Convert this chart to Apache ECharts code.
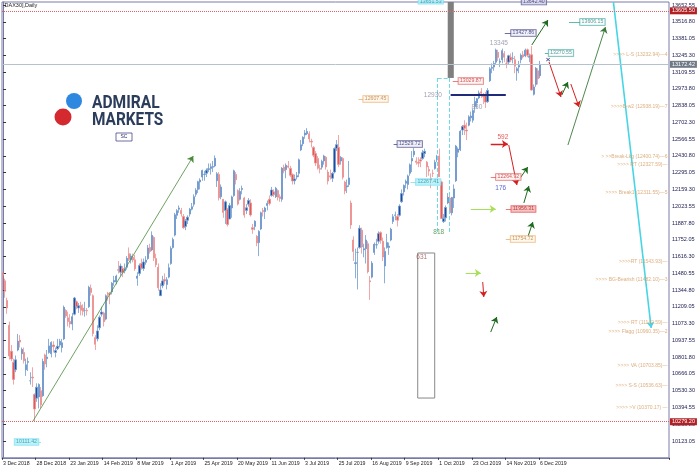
<!DOCTYPE html>
<html><head><meta charset="utf-8">
<script src="https://cdn.jsdelivr.net/npm/echarts@6/dist/echarts.min.js"></script>
<style>html,body{margin:0;padding:0;background:#fff}#c{width:700px;height:469px}</style>
</head><body><div id="c"></div>
<script>
// ---- tick labels ----
const xTickLabels = ['3 Dec 2018','28 Dec 2018','23 Jan 2019','14 Feb 2019','8 Mar 2019','1 Apr 2019','25 Apr 2019','20 May 2019','11 Jun 2019','3 Jul 2019','25 Jul 2019','16 Aug 2019','9 Sep 2019','1 Oct 2019','23 Oct 2019','14 Nov 2019','6 Dec 2019'];
const barsPerLabel = 16;
const futureSlots = 61;
const yMin = 9987.30, yMax = 13676.8, yStep = 135.75;

// ---- daily OHLC (DAX30, 3 Dec 2018 .. 6 Dec 2019) ----
const open = [11480,11420,11260,11060,10850,10760,10700,10860,10940,10830,10840,10700,10760,10610,10640,10500,10470,
10480,10530,10490,10820,10790,10840,10830,10900,10840,10870,10900,10880,10950,11180,11120,11090,11070,11150,11250,11200,11220,11200,
11180,11180,11210,11360,11300,10960,10950,11040,11150,11160,11110,11320,11320,11330,11410,11410,11510,11490,11520,11500,
11530,11640,11590,11610,11590,11440,11480,11560,11520,11570,11600,11690,11670,11770,11600,11530,11300,11380,11430,11390,11450,
11560,11690,11790,11950,12000,11990,11940,11860,11910,11960,12000,12040,12120,12160,12220,12260,12280,12290,12320,12330,
12340,12350,12230,12280,12100,12080,11990,12000,11920,12010,12110,12280,12150,12080,12160,12090,11990,12040,12050,11850,11860,11780,
11730,11840,11990,11980,12030,12080,12110,12140,12100,12150,12100,12080,12340,12320,12350,12330,12280,12230,12260,12290,
12480,12530,12600,12610,12610,12550,12500,12450,12410,12330,12340,12390,12420,12300,12270,12250,12300,12490,12500,12390,12410,12220,12180,
12200,12050,11750,11560,11650,11690,11830,11670,11680,11720,11420,11450,11650,11710,11740,11810,11740,11540,11690,11690,11750,11900,
11950,11940,11950,12060,12140,12210,12200,12290,12390,12440,12390,12380,12400,12410,12450,12380,12320,12250,12290,12330,12400,
12430,12220,11900,11930,12050,12090,11970,12090,12230,12460,12480,12640,12680,12640,12680,12740,12720,12830,12860,12900,12950,12920,12930,
12870,13040,13140,13150,13190,13270,13190,13210,13260,13180,13190,13230,13220,13210,13120,13150,13210,13250,13240,13290,13230,
13250,12930,13010,13120,13080];
const high = [11486,11437,11283,11090,10900,10790,10815,10990,10980,10880,10880,10790,10800,10680,10720,10510,10590,
10590,10560,10790,10830,10860,10950,10930,10930,10880,10950,10950,10950,11220,11190,11170,11150,11160,11290,11260,11240,11250,11230,
11250,11200,11380,11390,11310,10980,11060,11140,11210,11170,11310,11330,11330,11410,11460,11470,11580,11560,11540,11560,
11620,11690,11640,11640,11630,11490,11560,11600,11600,11620,11710,11720,11820,11780,11640,11560,11400,11460,11480,11450,11560,
11700,11770,11970,12000,12030,12010,11960,11920,11950,12010,12050,12120,12170,12230,12250,12320,12310,12330,12370,12370,
12390,12435,12300,12300,12200,12080,12070,12010,12050,12110,12320,12300,12160,12170,12190,12100,12040,12090,12080,11880,11910,11790,
11830,11980,12010,12020,12070,12110,12180,12160,12180,12160,12120,12340,12360,12370,12390,12350,12290,12280,12300,12410,
12560,12590,12640,12656,12630,12570,12510,12470,12430,12360,12400,12440,12430,12320,12320,12300,12500,12560,12600,12430,12420,12230,12240,
12390,12070,11780,11680,11690,11870,11850,11720,11790,11740,11460,11580,11730,11760,11820,11820,11770,11690,11800,11730,11850,11960,
11980,11960,12040,12160,12200,12240,12280,12370,12470,12494,12420,12420,12420,12480,12490,12390,12350,12290,12320,12400,12440,
12490,12230,11960,12030,12130,12120,12100,12200,12520,12500,12640,12680,12720,12700,12760,12790,12810,12910,12900,12960,12980,12940,12950,
12980,13150,13180,13200,13300,13290,13220,13300,13280,13220,13250,13260,13270,13240,13150,13200,13260,13280,13300,13300,13260,
13320,13010,13150,13140,13200];
const low = [11337,11283,11153,10782,10770,10580,10680,10850,10880,10780,10750,10650,10690,10580,10560,10279,10440,
10387,10390,10480,10700,10720,10830,10800,10840,10800,10860,10880,10840,10940,11120,11050,11040,11020,11140,11190,11160,11140,11140,
11130,11140,11200,11300,10970,10860,10930,11020,11130,11050,11100,11260,11230,11310,11380,11390,11480,11460,11450,11480,
11510,11580,11560,11570,11500,11380,11460,11510,11500,11550,11590,11640,11660,11580,11530,11340,11300,11360,11390,11350,11440,
11550,11680,11780,11920,11970,11940,11840,11830,11880,11940,11990,12020,12100,12130,12160,12230,12230,12260,12300,12280,
12300,12340,12180,12070,12080,11930,11880,11860,11920,11930,12100,12200,12030,12070,12120,11930,11960,12020,11940,11800,11830,11700,
11620,11830,11940,11920,11990,12030,12100,12100,12090,12070,12060,12060,12290,12250,12330,12260,12200,12200,12240,12260,
12470,12510,12570,12600,12540,12500,12420,12350,12320,12290,12320,12360,12320,12200,12240,12220,12290,12470,12340,12360,12240,12120,12130,
12180,11840,11580,11440,11350,11680,11640,11610,11560,11480,11266,11440,11630,11680,11720,11720,11580,11400,11680,11630,11740,11880,
11910,11860,11940,12050,12110,12170,12160,12270,12300,12420,12360,12340,12340,12400,12420,12260,12270,12170,12260,12320,12380,
12260,11920,11888,11900,12040,11960,11950,12010,12220,12420,12470,12600,12600,12560,12670,12710,12700,12780,12820,12890,12900,12850,12820,
12860,13030,13100,13120,13170,13200,13150,13180,13190,13140,13170,13190,13180,13100,13040,13100,13180,13220,13230,13230,13190,
12960,12920,12990,13010,13060];
const close = [11465,11335,11200,10811,10788,10622,10780,10931,10924,10865,10772,10740,10766,10611,10634,10382,10559,
10580,10416,10767,10747,10803,10893,10921,10887,10856,10891,10931,10918,11205,11136,11090,11071,11130,11281,11210,11218,11181,11173,
11180,11176,11367,11325,10994,10906,11014,11126,11167,11089,11299,11309,11309,11401,11423,11458,11505,11540,11487,11516,
11602,11593,11620,11588,11518,11458,11543,11524,11572,11588,11686,11657,11788,11604,11550,11364,11346,11419,11419,11428,11526,
11681,11754,11954,11988,12010,11963,11850,11905,11935,11999,12020,12101,12153,12222,12236,12313,12282,12315,12328,12344,
12345,12412,12286,12092,12179,11973,12059,11876,12029,12099,12310,12238,12041,12143,12168,11952,12011,12071,11953,11837,11902,11727,
11820,11971,11980,12009,12045,12045,12155,12116,12169,12096,12086,12331,12309,12355,12340,12274,12228,12245,12271,12399,
12521,12582,12616,12629,12568,12543,12436,12373,12332,12323,12387,12430,12342,12227,12260,12290,12490,12522,12362,12419,12258,12147,12189,
12253,11872,11658,11567,11650,11845,11694,11679,11750,11493,11412,11563,11715,11712,11802,11747,11612,11658,11731,11701,11838,11939,
11953,11911,12025,12126,12192,12226,12269,12359,12410,12469,12380,12372,12389,12457,12468,12342,12308,12234,12289,12380,12428,
12263,11925,11925,12013,12097,11970,12094,12164,12511,12486,12630,12670,12654,12633,12747,12754,12798,12872,12894,12941,12939,12910,12867,
12961,13136,13148,13179,13289,13228,13198,13283,13230,13180,13242,13207,13221,13157,13137,13163,13246,13232,13287,13245,13236,
12964,12989,13140,13055,13172.42];

// ---- price lines ----
const currentPrice = 13172.42, topLevel = 13605.50, bottomLevel = 10279.20;

// ---- right-side level texts ----
const levelTexts = ['>>>> L-S (13232.94)—4','>>>>B-w2 (12938.19)—7','> >>Break-Lkg (12400.74)—6','>>>> RT (12327.59)—','>>>> Break1 (12311.55)—5','>>>>RT (11543.93)—','>>>> BG-Bearish (11482.10)—3','>>>> RT (11142.59)—','>>>> Flagg (10960.35)—2','>>>> VA (10703.85)—','>>>> S-S (10536.63)—','>>>> >V (10370.17) —'];
const levelTextPrices = [13248,12827,12422,12357,12131,11572,11427,11078,11005,10730,10568,10390];

// ---- build ----
const nBars = open.length;
const nCats = nBars + futureSlots;
const cats = []; for (let i = 0; i < nCats; i++) cats.push(String(i));
const candleData = open.map((o, i) => [o, close[i], low[i], high[i]]);
const lastIdx = nCats - 0.5;
const isTick = (i) => i % barsPerLabel === 0 && i / barsPerLabel < xTickLabels.length;

const FONT = "'Liberation Sans',Arial,sans-serif";
const boxStyles = {
  teal:   {color:'#2a7f7a', backgroundColor:'#ffffff', borderColor:'#3aa6a0'},
  navy:   {color:'#2a2a6a', backgroundColor:'#eeeefa', borderColor:'#4a4a8a'},
  red:    {color:'#c03030', backgroundColor:'#fff0f0', borderColor:'#e06060'},
  redFill:{color:'#a02020', backgroundColor:'#f6b4b4', borderColor:'#e05050'},
  orange: {color:'#b87a3a', backgroundColor:'#fff6ea', borderColor:'#e8b070'},
  cyan:   {color:'#2a8fa0', backgroundColor:'#aef0fa', borderColor:'#7fe0f0'}
};
const textStyles = {
  greyText:{color:'#8a8aa0'}, redText:{color:'#e03030'}, blueText:{color:'#3040c8'},
  greenText:{color:'#3a8a3a'}, brownText:{color:'#a05050'}
};
const notes = [
  [281.0,13515,'13606.15','teal'],[266.0,13264,'13270.55','teal'],[248.1,13426,'13427.86','navy'],
  [223.0,13037,'13029.87','red'],[204.9,12924,'12930','greyText'],[225.9,12827,'830','greyText'],
  [236.4,13345,'13345','greyText'],[177.6,12892,'12607.45','orange'],[193.9,12527,'12529.72','navy'],
  [202.7,12220,'12267.41','cyan'],[238.3,12584,'592','redText'],[240.9,12260,'12264.92','red'],
  [237.3,12171,'176','blueText'],[248.1,12001,'11956.31','redFill'],[247.8,11758,'11754.72','orange'],
  [207.7,11815,'818','greenText'],[199.6,11613,'631','brownText'],[11.2,10115,'10111.42','cyan']
];
const boxLabel = (txt, st) => Object.assign({show:true, position:'inside', formatter:txt, fontSize:5.2, fontFamily:FONT, padding:[1,1.5,0,1.5], borderWidth:0.8}, st);
const scatterData = notes.map(n => {
  const st = boxStyles[n[3]];
  const lab = st ? boxLabel(n[2], st)
                 : Object.assign({show:true, position:'inside', formatter:n[2], fontSize:6.5, fontFamily:FONT}, textStyles[n[3]]);
  return {value:[n[0], n[1]], label: lab};
});
scatterData.push({value:[253.1,13652], label:Object.assign(boxLabel('13642.40', {color:'#2a2a6a', backgroundColor:'#d8d8f0', borderColor:'#4a4a8a'}), {position:'top', distance:0})});
scatterData.push({value:[203.9,13660], label:Object.assign(boxLabel('13651.53', boxStyles.cyan), {position:'top', distance:0})});
scatterData.push({value:[259.8,13207], label:{show:true, position:'inside', formatter:'×', fontSize:8, fontWeight:'bold', color:'#2a2a7a'}});
levelTexts.forEach((t, k) => scatterData.push({value:[lastIdx, levelTextPrices[k]], label:{show:true, position:'left', distance:1, formatter:t, fontSize:5, fontFamily:FONT, color:'#d49a5c'}}));

const G = '#1f6b1f', R = '#d42020', L = '#a6e05a';
const arrows = [
  [[14.3,10285],[90.7,12430],'#4a8a3a',0.8],
  [[252.1,13329],[259.8,13531],G,1],
  [[260.3,13191],[266.0,12908],R,1],
  [[266.4,12924],[269.3,13029],G,1],
  [[270.7,13013],[274.6,12827],R,1],
  [[269.3,12519],[287.2,13474],'#3a7a3a',0.9],
  [[291.0,13676.8],[309.0,11038],'#45d5e5',1.6],
  [[232.5,12527],[240.7,12527],R,1.4],
  [[241.1,12519],[245.0,12195],R,1],
  [[245.9,12236],[250.2,12341],G,1],
  [[248.3,12050],[250.7,12187],G,1],
  [[223.0,12001],[234.9,12001],L,1.2],
  [[250.2,11774],[252.6,11896],G,1],
  [[220.6,11483],[227.8,11483],L,1.2],
  [[228.7,11410],[229.2,11289],R,1],
  [[232.5,11005],[235.4,11127],G,1]
];
const plainLines = [
  [[213.4,12924],[239.7,12924],'#1f2a7a',1.8,'solid'],
  [[207.2,13062],[207.2,11815],'#6fd8e8',1,'dashed'],
  [[212.5,13062],[212.5,11815],'#6fd8e8',1,'dashed'],
  [[207.2,13062],[212.5,13062],'#6fd8e8',1,'dashed'],
  [[269.8,13515],[275.5,13515],'#3aa6a0',0.8,'solid'],
  [[258.3,13264],[261.2,13264],'#3aa6a0',0.8,'solid'],
  [[239.2,13426],[243.0,13426],'#4a4a8a',0.8,'solid'],
  [[214.4,13037],[218.2,13037],'#e06060',0.8,'solid'],
  [[169.5,12892],[172.8,12892],'#e8b070',0.8,'solid'],
  [[186.2,12527],[188.6,12527],'#4a4a8a',0.8,'solid'],
  [[194.3,12220],[197.7,12220],'#7fe0f0',0.8,'solid'],
  [[232.5,12260],[235.9,12260],'#e06060',0.8,'solid'],
  [[239.7,12001],[243.0,12001],'#e06060',0.8,'solid'],
  [[239.7,11758],[242.6,11758],'#e8b070',0.8,'solid'],
  [[15.3,10115],[18.1,10115],'#7fe0f0',0.8,'solid']
];

const chart = echarts.init(document.getElementById('c'), null, {renderer:'canvas'});
chart.setOption({
  animation:false,
  backgroundColor:'#ffffff',
  grid:{left:2, right:31, top:2, bottom:11.2, show:true, borderColor:'#7a7aa8', borderWidth:1, backgroundColor:'transparent'},
  xAxis:[
    {type:'category', data:cats, boundaryGap:true,
     axisLine:{show:true, lineStyle:{color:'#7a7aa8'}},
     axisTick:{show:true, length:2, interval:isTick, lineStyle:{color:'#333'}},
     axisLabel:{interval:isTick, hideOverlap:false, formatter:(v)=> { const i = +v; return isTick(i) ? xTickLabels[i / barsPerLabel] : ''; }, align:'left', fontSize:5.2, fontFamily:FONT, color:'#222', margin:3},
     splitLine:{show:false}},
    {type:'value', min:-0.5, max:nCats-0.5, show:false}
  ],
  yAxis:{type:'value', position:'right', min:yMin, max:yMax, interval:yStep, scale:true,
    axisLine:{show:true, lineStyle:{color:'#7a7aa8'}},
    axisTick:{show:true, length:3, lineStyle:{color:'#333'}},
    axisLabel:{formatter:(v)=> v.toFixed(2), fontSize:5.5, fontFamily:FONT, color:'#1a1a50', margin:3, showMinLabel:false, showMaxLabel:false},
    splitLine:{show:false}},
  graphic:[
    {type:'text', left:3, top:2, style:{text:'[DAX30],Daily', fontSize:5.5, fontFamily:FONT, fill:'#222'}},
    {type:'circle', shape:{cx:74, cy:101, r:8}, style:{fill:'#2e88e0'}},
    {type:'circle', shape:{cx:63, cy:117, r:8.5}, style:{fill:'#d4292f'}},
    {type:'text', x:92, y:94, scaleX:0.82, style:{text:'ADMIRAL', fontSize:19, fontWeight:'bold', fontFamily:'Roboto', fill:'#2c3d5b'}},
    {type:'text', x:92, y:111, scaleX:0.81, style:{text:'MARKETS', fontSize:19, fontWeight:'bold', fontFamily:'Roboto', fill:'#2c3d5b'}},
    {type:'rect', shape:{x:116, y:133, width:16, height:8}, style:{fill:'#fff', stroke:'#4a4a8a', lineWidth:0.8}},
    {type:'text', x:124, y:137, style:{text:'SC', fontSize:5, fontFamily:FONT, fill:'#2a2a6a', align:'center', verticalAlign:'middle'}}
  ],
  series:[
    {type:'candlestick', xAxisIndex:0, data:candleData, barWidth:1.8,
     itemStyle:{color:'#1f4c9a', color0:'#e05c5c', borderColor:'#6f9ad0', borderColor0:'#ee9090', borderWidth:0.8},
     markLine:{silent:true, symbol:'none', animation:false,
       data:[
        {yAxis:currentPrice, lineStyle:{color:'#b4c2cf', width:1, type:'solid'}, label:{position:'end', distance:1, formatter:currentPrice.toFixed(2), fontSize:5.5, fontFamily:FONT, color:'#fff', backgroundColor:'#707a86', padding:[1,2,0,2]}},
        {yAxis:topLevel, lineStyle:{color:'#e06060', width:1, type:'dotted'}, label:{position:'end', distance:1, formatter:topLevel.toFixed(2), fontSize:5.5, fontFamily:FONT, color:'#fff', backgroundColor:'#b02025', padding:[1,2,0,2]}},
        {yAxis:bottomLevel, lineStyle:{color:'#e06060', width:1, type:'dotted'}, label:{position:'end', distance:1, formatter:bottomLevel.toFixed(2), fontSize:5.5, fontFamily:FONT, color:'#fff', backgroundColor:'#b02025', padding:[1,2,0,2]}}
       ]}},
    {type:'lines', coordinateSystem:'cartesian2d', xAxisIndex:1, yAxisIndex:0, symbol:['none','arrow'], symbolSize:6, silent:true, z:4,
     data: arrows.map(a => ({coords:[a[0], a[1]], lineStyle:{color:a[2], width:a[3], opacity:1}}))},
    {type:'lines', coordinateSystem:'cartesian2d', xAxisIndex:1, yAxisIndex:0, symbol:'none', silent:true, z:4,
     data: plainLines.map(a => ({coords:[a[0], a[1]], lineStyle:{color:a[2], width:a[3], type:a[4], opacity:1}}))},
    {type:'scatter', xAxisIndex:1, yAxisIndex:0, symbolSize:1, itemStyle:{color:'transparent'}, silent:true, z:5, clip:false,
     data: scatterData,
     markArea:{silent:true, data:[
       [{coord:[212.0,13676.8], itemStyle:{color:'#7f7f7f'}}, {coord:[214.9,13062]}],
       [{coord:[197.7,11645], itemStyle:{color:'#ffffff', borderColor:'#888', borderWidth:1}}, {coord:[205.8,10471]}]
     ]}}
  ]
});
</script></body></html>
